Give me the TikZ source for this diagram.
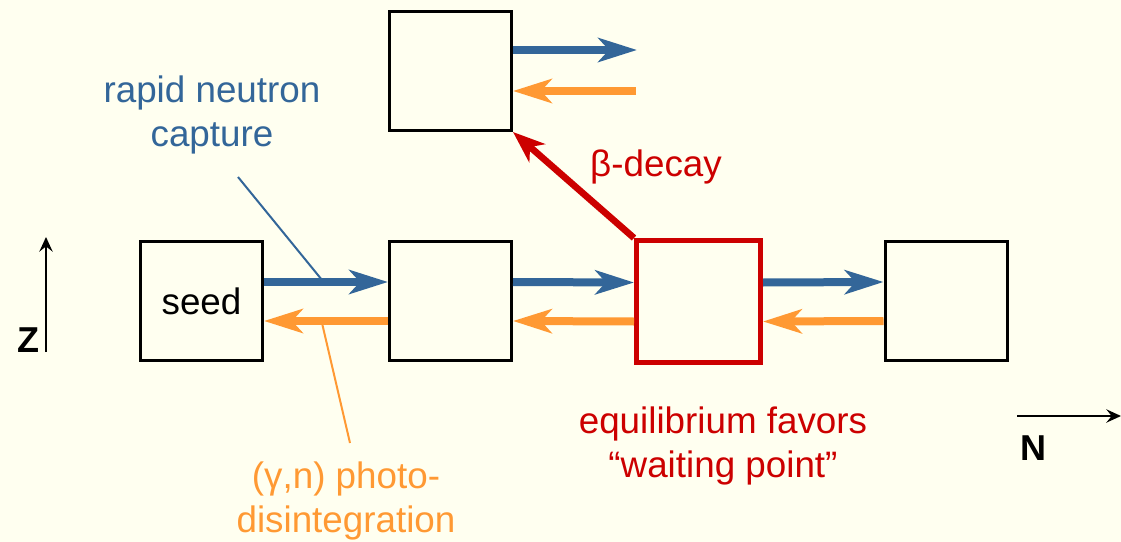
\documentclass[tikz,border=0pt]{standalone}
\usepackage{fontspec}
\setmainfont{Liberation Sans}
\usetikzlibrary{arrows.meta}
\definecolor{paper}{RGB}{255,255,240}
\definecolor{capblue}{RGB}{51,102,153}
\definecolor{photorange}{RGB}{255,153,51}
\definecolor{decayred}{RGB}{204,0,0}

\begin{document}
\begin{tikzpicture}[x=0.75pt, y=-0.75pt,
  nucbox/.style={rectangle, draw, line width=2.25pt, minimum width=91.5pt, minimum height=89.25pt, inner sep=0pt},
  ncap/.style={line width=6pt, draw=capblue, -{Stealth[length=29pt, width=18pt, inset=8pt]}},
  gamman/.style={line width=6pt, draw=photorange, -{Stealth[length=29pt, width=18pt, inset=8pt]}},
  betadec/.style={line width=5pt, draw=decayred, -{Stealth[length=24pt, width=18pt, inset=7pt]}},
  axis/.style={line width=1.5pt, -{Stealth[length=11pt, width=10pt, inset=4pt]}},
  txt/.style={font=\fontsize{27.6}{33}\selectfont, align=center},
  axtxt/.style={font=\fontsize{27}{33}\selectfont\bfseries}
]
\fill[paper] (0,0) rectangle (1121,542);
\useasboundingbox (0,0) rectangle (1121,542);

% nuclei
\node[nucbox] (top) at (450.5,71) {};
\node[nucbox, txt] (seed) at (201.5,301) {seed};
\node[nucbox] (mid) at (450.5,301) {};
\node[nucbox, draw=decayred, line width=3.75pt, minimum width=93pt, minimum height=91.5pt] (wait) at (698.5,301.5) {};
\node[nucbox] (right) at (946,301) {};

% free ends
\coordinate (topout) at (637,50);
\coordinate (topin) at (636,91);

% captures and photodisintegrations
\draw[ncap] ([yshift=14.25pt]seed.east) -- ([yshift=14.25pt]mid.west);
\draw[ncap] ([yshift=14.25pt]mid.east) -- ([yshift=14.25pt]wait.west);
\draw[ncap] ([yshift=14.25pt]wait.east) -- ([yshift=14.25pt]right.west);
\draw[ncap] ([yshift=15.75pt]top.east) -- (topout);
\draw[gamman] ([yshift=-15pt]mid.west) -- ([yshift=-15pt]seed.east);
\draw[gamman] ([yshift=-15pt]wait.west) -- ([yshift=-15pt]mid.east);
\draw[gamman] ([yshift=-15pt]right.west) -- ([yshift=-15pt]wait.east);
\draw[gamman] (topin) -- ([yshift=-15pt]top.east);

% beta decay
\draw[betadec] (wait.north west) -- (top.south east);

% labels
\node[txt, text=capblue] (ncaplbl) at (212,115) {rapid neutron\\capture};
\node[txt, text=decayred] (betalbl) at (656,167) {β-decay};
\node[txt, text=decayred] (waitlbl) at (723,446) {equilibrium favors\\“waiting point”};
\node[txt, text=photorange] (gnlbl) at (346,501) {(γ,n) photo-\\disintegration};

% pointer lines
\coordinate (ncapfoot) at (238,177);
\coordinate (ncaptip) at (322,280);
\coordinate (gntip) at (322,323);
\coordinate (gnfoot) at (350,443);
\draw[capblue, line width=1.5pt] (ncapfoot) -- (ncaptip);
\draw[photorange, line width=1.5pt] (gntip) -- (gnfoot);

% axes
\coordinate (zlo) at (46,352);
\coordinate (zhi) at (46,237);
\coordinate (nlo) at (1017,416);
\coordinate (nhi) at (1121,416);
\draw[axis] (zlo) -- (zhi);
\draw[axis] (nlo) -- (nhi);
\node[axtxt] (zlbl) at (28,340) {Z};
\node[axtxt] (nlbl) at (1033,448) {N};
\end{tikzpicture}
\end{document}
